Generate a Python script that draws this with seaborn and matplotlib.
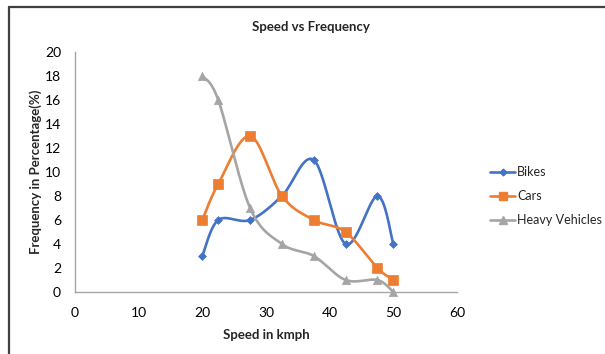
import numpy as np
import pandas as pd
import matplotlib
matplotlib.use("Agg")
import matplotlib.pyplot as plt
import seaborn as sns
from matplotlib.lines import Line2D

speed = [20, 22.5, 27.5, 32.5, 37.5, 42.5, 47.5, 50]
bikes = [3, 6, 6, 8, 11, 4, 8, 4]
cars = [6, 9, 13, 8, 6, 5, 2, 1]
heavy = [18, 16, 7, 4, 3, 1, 1, 0]
series_names = ["Bikes", "Cars", "Heavy Vehicles"]
x_ticks = [0, 10, 20, 30, 40, 50, 60]
y_ticks = [0, 2, 4, 6, 8, 10, 12, 14, 16, 18, 20]

colors = {"Bikes": "#4472C4", "Cars": "#ED7D31", "Heavy Vehicles": "#A5A5A5"}
markers = {"Bikes": "D", "Cars": "s", "Heavy Vehicles": "^"}
msizes = {"Bikes": 4, "Cars": 6.5, "Heavy Vehicles": 6}

sns.set_theme(style="white")
plt.rcParams["font.family"] = ["Lato", "DejaVu Sans"]


def smooth(xs, ys, n=30):
    """Excel-like smoothed line (Catmull-Rom Bezier) for rendering."""
    P = np.column_stack([xs, ys]).astype(float)
    m = len(P)
    out = []
    for i in range(m - 1):
        p0 = P[i - 1] if i > 0 else P[i]
        p1 = P[i]
        p2 = P[i + 1]
        p3 = P[i + 2] if i + 2 < m else P[i + 1]
        c1 = p1 + (p2 - p0) / 6.0
        c2 = p2 - (p3 - p1) / 6.0
        t = np.linspace(0, 1, n, endpoint=(i == m - 2))[:, None]
        b = ((1 - t) ** 3) * p1 + 3 * ((1 - t) ** 2) * t * c1 + 3 * (1 - t) * t ** 2 * c2 + t ** 3 * p2
        out.append(b)
    out = np.vstack(out)
    return out[:, 0], out[:, 1]


df = pd.DataFrame({"Speed": speed, "Bikes": bikes, "Cars": cars, "Heavy Vehicles": heavy})

fig = plt.figure(figsize=(6.05, 3.54), dpi=100)
ax = fig.add_axes([75 / 605, 1 - 292 / 354, (457 - 75) / 605, (292 - 52) / 354])

handles = []
for name in series_names:
    sx, sy = smooth(df["Speed"].values, df[name].values)
    sdf = pd.DataFrame({"x": sx, "y": sy})
    sns.lineplot(data=sdf, x="x", y="y", sort=False, ax=ax, color=colors[name],
                 linewidth=1.9, estimator=None, clip_on=False)
    sns.scatterplot(data=df, x="Speed", y=name, ax=ax, color=colors[name],
                    marker=markers[name], s=msizes[name] ** 2, edgecolor=colors[name],
                    linewidth=0.5, clip_on=False, zorder=5)
    handles.append(Line2D([0], [0], color=colors[name], lw=1.9, marker=markers[name],
                          markersize=msizes[name] * 0.85, label=name))

ax.set_xlim(0, 60)
ax.set_ylim(0, 20)
ax.set_xticks(x_ticks)
ax.set_yticks(y_ticks)
ax.tick_params(axis="both", labelsize=10, colors="#000000", length=0)
ax.tick_params(axis="x", pad=11)
ax.tick_params(axis="y", pad=10)
for s in ["top", "right"]:
    ax.spines[s].set_visible(False)
for s in ["left", "bottom"]:
    ax.spines[s].set_color("#A6A6A6")
    ax.spines[s].set_linewidth(1.0)

ax.set_xlabel("Speed in kmph", fontsize=9.5, fontweight="bold", labelpad=7)
ax.set_ylabel("Frequency in Percentage(%)", fontsize=9.5, fontweight="bold", labelpad=2)
fig.text(311 / 605, 1 - 27 / 354, "Speed vs Frequency", ha="center", va="center",
         fontsize=9.5, fontweight="bold")

fig.legend(handles=handles, loc="center left", bbox_to_anchor=(479 / 605, 1 - 196 / 354),
           frameon=False, fontsize=9, handlelength=2.0, handletextpad=0.15,
           labelspacing=0.95)

# outer chart frame (left and top edges visible)
fig.add_artist(Line2D([9 / 605, 9 / 605], [0, 1 - 7 / 354], transform=fig.transFigure,
                      color="#404040", lw=1.6))
fig.add_artist(Line2D([9 / 605, 1], [1 - 7 / 354, 1 - 7 / 354], transform=fig.transFigure,
                      color="#404040", lw=1.6))

fig.savefig("out.png", dpi=100, facecolor="white")
